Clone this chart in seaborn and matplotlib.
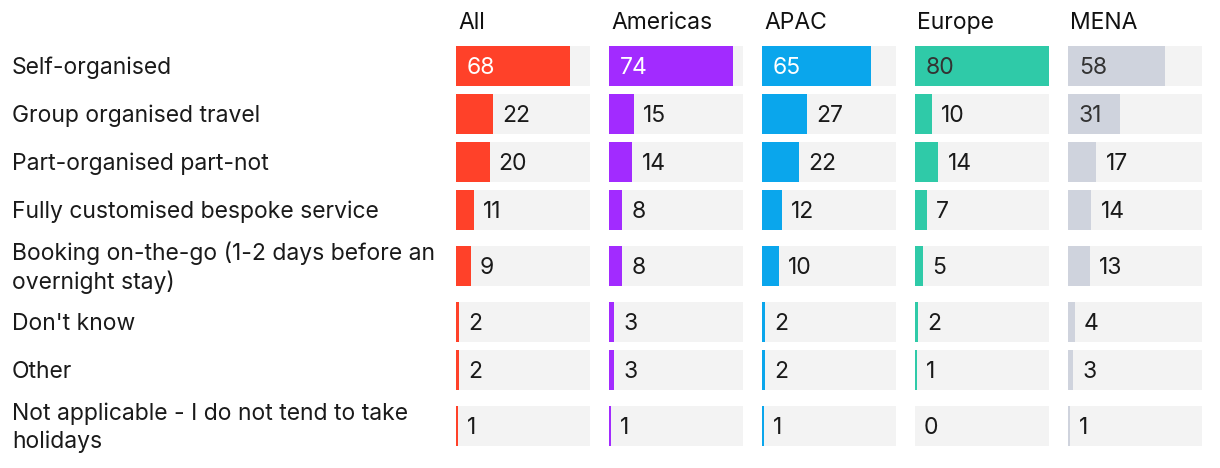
import numpy as np
import matplotlib
matplotlib.use("Agg")
import matplotlib.pyplot as plt
import matplotlib.transforms as mtrans
import seaborn as sns

# Data
categories = [
    "Self-organised",
    "Group organised travel",
    "Part-organised part-not",
    "Fully customised bespoke service",
    "Booking on-the-go (1-2 days before an\novernight stay)",
    "Don't know",
    "Other",
    "Not applicable - I do not tend to take\nholidays",
]
regions = ["All", "Americas", "APAC", "Europe", "MENA"]
all_vals = [68, 22, 20, 11, 9, 2, 2, 1]
americas_vals = [74, 15, 14, 8, 8, 3, 3, 1]
apac_vals = [65, 27, 22, 12, 10, 2, 2, 1]
europe_vals = [80, 10, 14, 7, 5, 2, 1, 0]
mena_vals = [58, 31, 17, 14, 13, 4, 3, 1]
series = [all_vals, americas_vals, apac_vals, europe_vals, mena_vals]

colors = ["#ff4129", "#a22bff", "#0aa6ec", "#2fcaa8", "#cfd3dd"]
inside_color = ["white", "white", "white", "#333333", "#333333"]
track_color = "#f3f3f3"
xmax = 80

sns.set_style("white")
plt.rcParams['font.family'] = ['Inter', 'DejaVu Sans']
FS = 16.5

W, H = 1220, 468
fig = plt.figure(figsize=(W / 100, H / 100), dpi=100)

# row layout: two-line labels get taller rows
row_h = [64 if "\n" in c else 48 for c in categories]
edges = np.cumsum([0] + row_h)
ypos = (edges[:-1] + edges[1:]) / 2
top_px = 42
bar_w = 40 / 48

for i, (region, vals) in enumerate(zip(regions, series)):
    left = 456 + i * 153
    ax = fig.add_axes([left / W, 1 - (top_px + edges[-1]) / H, 134 / W, edges[-1] / H])
    sns.barplot(x=[xmax] * len(vals), y=ypos, orient="y", native_scale=True,
                width=bar_w, color=track_color, saturation=1, errorbar=None,
                linewidth=0, ax=ax)
    sns.barplot(x=vals, y=ypos, orient="y", native_scale=True,
                width=bar_w, color=colors[i], saturation=1, errorbar=None,
                linewidth=0, ax=ax)
    ax.set_xlim(0, xmax)
    ax.set_ylim(edges[-1], 0)
    ax.axis("off")

    for v, y in zip(vals, ypos):
        if v >= 30:
            ax.annotate(str(v), xy=(0, y), xytext=(11, -2), textcoords="offset pixels",
                        ha="left", va="center", fontsize=FS, color=inside_color[i])
        else:
            ax.annotate(str(v), xy=(v, y), xytext=(9, -2), textcoords="offset pixels",
                        ha="left", va="center", fontsize=FS, color="#1a1a1a")

    ax.annotate(region, xy=(0, 1), xycoords="axes fraction", xytext=(2, 19),
                textcoords="offset pixels", ha="left", va="center",
                fontsize=FS, color="#111111")

    if i == 0:
        trans = mtrans.blended_transform_factory(fig.transFigure, ax.transData)
        for c, y in zip(categories, ypos):
            ax.annotate(c, xy=(12 / W, y), xycoords=trans, xytext=(0, -2),
                        textcoords="offset pixels", ha="left", va="center",
                        fontsize=FS, color="#1a1a1a", linespacing=1.3)

fig.savefig("out.png", dpi=100)
